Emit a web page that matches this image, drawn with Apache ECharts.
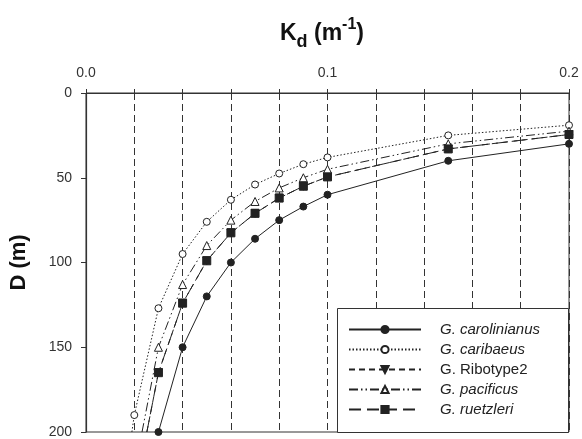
<!DOCTYPE html>
<html>
<head>
<meta charset="utf-8">
<script src="https://cdn.jsdelivr.net/npm/echarts@6/dist/echarts.min.js"></script>
<style>
  html, body { margin: 0; padding: 0; background: #fff; }
  #chart { width: 582px; height: 439px; }
</style>
</head>
<body>
<div id="chart"></div>
<script>
// Kd (m^-1) where markers sit
const kd = [0.02, 0.03, 0.04, 0.05, 0.06, 0.07, 0.08, 0.09, 0.1, 0.15, 0.2];
// depth D (m) for each species, null = no marker at that Kd
const carolinianus = [null, 200, 150, 120, 100, 86, 75, 67, 60, 40, 30];
const caribaeus = [190, 127, 95, 76, 63, 54, 47.5, 42, 38, 25, 19];
const ribotype2 = [null, 165, 124, 99, 82.5, 71, 62, 55, 49.5, 33, 24.5];
const pacificus = [null, 150, 113, 90, 75, 64, 56, 50, 45, 30, 22.5];
const ruetzleri = [null, 165, 124, 99, 82.5, 71, 62, 55, 49.5, 33, 24.5];
// Kd where each curve leaves the bottom edge (D = 200), null = ends on a marker
const edgeKd = [null, 0.019, 0.0252, 0.0232, 0.0252];

const names = ["G. carolinianus", "G. caribaeus", "G. Ribotype2", "G. pacificus", "G. ruetzleri"];
const depths = [carolinianus, caribaeus, ribotype2, pacificus, ruetzleri];
const yTicks = [0, 50, 100, 150, 200];

const font = "Liberation Sans";
const ink = "#222";

const looks = [
  { symbol: "circle", size: 7, fill: ink, dash: "solid" },
  { symbol: "circle", size: 7, fill: "#fff", dash: [1.5, 2] },
  { symbol: "triangle", size: 8, fill: ink, dash: [6, 4], rotate: 180 },
  { symbol: "triangle", size: 8, fill: "#fff", dash: [9, 3, 1.5, 3, 1.5, 3] },
  { symbol: "rect", size: 8, fill: ink, dash: [12, 6] },
];

function buildData(i) {
  const pts = [];
  if (edgeKd[i] != null) pts.push({ value: [edgeKd[i], 200], symbol: "none" });
  depths[i].forEach((d, j) => {
    if (d != null) pts.push([kd[j], d]);
  });
  return pts;
}

// Ribotype2 drawn first so the other curves sit over it
const drawOrder = [2, 0, 1, 3, 4];
const series = drawOrder.map((i) => ({
  name: names[i],
  type: "line",
  data: buildData(i),
  symbol: looks[i].symbol,
  symbolSize: looks[i].size,
  symbolRotate: looks[i].rotate || 0,
  showAllSymbol: true,
  color: ink,
  itemStyle: { color: looks[i].fill, borderColor: ink, borderWidth: 1 },
  lineStyle: { color: ink, width: 1, type: looks[i].dash },
  emphasis: { disabled: true },
  animation: false,
}));

const chart = echarts.init(document.getElementById("chart"));
chart.setOption({
  backgroundColor: "#fff",
  animation: false,
  title: {
    text: "{k|K}{s|d}{k| (m}{p|-1}{k|)}",
    left: 275,
    top: 12,
    textStyle: {
      rich: {
        k: { fontFamily: font, fontSize: 23, fontWeight: "bold", color: "#111", lineHeight: 34 },
        s: { fontFamily: font, fontSize: 18, fontWeight: "bold", color: "#111", lineHeight: 20, verticalAlign: "bottom" },
        p: { fontFamily: font, fontSize: 16, fontWeight: "bold", color: "#111", lineHeight: 18, verticalAlign: "top" },
      },
    },
  },
  grid: {
    left: 86,
    top: 93,
    right: 13,
    bottom: 6,
    show: true,
    borderColor: "#333",
    borderWidth: 1,
  },
  xAxis: {
    type: "value",
    position: "top",
    min: 0,
    max: 0.2,
    interval: 0.02,
    axisLine: { show: true, lineStyle: { color: "#333", width: 1.2 } },
    axisTick: { show: true, inside: false, length: 4, lineStyle: { color: "#333" } },
    axisLabel: {
      margin: 13,
      fontFamily: font,
      fontSize: 14,
      color: "#333",
      formatter: (v) => (Math.abs(v * 10 - Math.round(v * 10)) < 1e-6 ? v.toFixed(1) : ""),
    },
    splitLine: { show: true, lineStyle: { color: "#333", width: 1, type: [7, 4] } },
  },
  yAxis: {
    type: "value",
    inverse: true,
    min: yTicks[0],
    max: yTicks[yTicks.length - 1],
    interval: 50,
    name: "D (m)",
    nameLocation: "middle",
    nameGap: 56,
    nameTextStyle: { fontFamily: font, fontSize: 22, fontWeight: "bold", color: "#111" },
    axisLine: { show: true, lineStyle: { color: "#333", width: 1.2 } },
    axisTick: { show: true, inside: false, length: 5, lineStyle: { color: "#333" } },
    axisLabel: { margin: 14, fontFamily: font, fontSize: 14, color: "#333" },
    splitLine: { show: false },
  },
  graphic: [
    {
      type: "rect",
      z: 100,
      shape: { x: 337.5, y: 308.5, width: 231, height: 124 },
      style: { fill: "#fff", stroke: "#333", lineWidth: 1 },
    },
  ],
  legend: {
    z: 200,
    orient: "vertical",
    left: 343,
    top: 317,
    itemWidth: 72,
    itemHeight: 9,
    itemGap: 5,
    align: "left",
    data: names,
    selectedMode: false,
    formatter: (n) => (n === "G. Ribotype2" ? "{n|" + n + "}" : "{i|" + n + "}"),
    textStyle: {
      padding: [0, 0, 0, 14],
      rich: {
        i: { fontFamily: font, fontSize: 15, fontStyle: "italic", color: ink, lineHeight: 16 },
        n: { fontFamily: font, fontSize: 15, color: ink, lineHeight: 16 },
      },
    },
  },
  series: series,
});
</script>
</body>
</html>
